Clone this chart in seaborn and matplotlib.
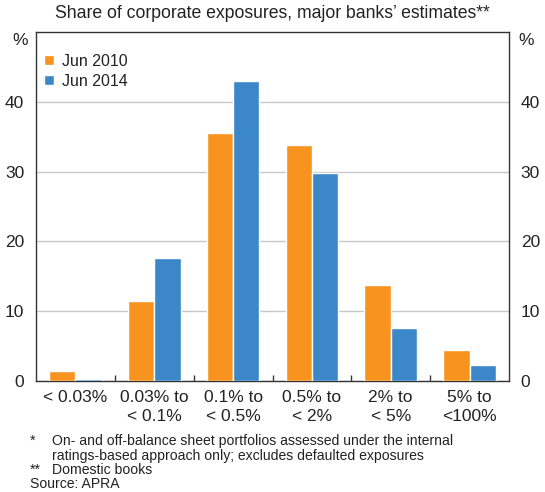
import matplotlib
matplotlib.use("Agg")
import matplotlib.pyplot as plt
import pandas as pd
import seaborn as sns

# PD bands and share of corporate exposures (%)
bands = ["< 0.03%", "0.03% to\n< 0.1%", "0.1% to\n< 0.5%", "0.5% to\n< 2%", "2% to\n< 5%", "5% to\n<100%"]
jun_2010 = [1.4, 11.5, 35.6, 33.8, 13.7, 4.4]
jun_2014 = [0.3, 17.6, 43.0, 29.8, 7.6, 2.3]
periods = ["Jun 2010", "Jun 2014"]
colours = ["#F7931E", "#3B87C8"]
y_ticks = [0, 10, 20, 30, 40]

df = pd.DataFrame({
    "band": bands * 2,
    "share": jun_2010 + jun_2014,
    "period": [periods[0]] * len(bands) + [periods[1]] * len(bands),
})

sns.set_style("white")
plt.rcParams["font.family"] = ["Liberation Sans", "DejaVu Sans"]
text_col = "#222222"

fig = plt.figure(figsize=(5.45, 4.92), dpi=100)
ax = fig.add_axes([36 / 545, 1 - 381 / 492, 473 / 545, 349 / 492])

sns.barplot(data=df, x="band", y="share", hue="period", palette=colours,
            width=0.67, gap=0, saturation=1, ax=ax, zorder=3)

ax.set_ylim(0, 50)
ax.set_xlim(-0.5, len(bands) - 0.5)
ax.set_yticks(y_ticks)
ax.yaxis.grid(True, color="#c8c8c8", linewidth=1, zorder=0)
ax.set_axisbelow(True)
ax.set_xlabel("")
ax.set_ylabel("")

# labels on both sides
ax.tick_params(axis="y", left=False, right=False, labelleft=True, labelright=True,
               labelsize=12.5, colors=text_col, pad=5)
ax.tick_params(axis="x", bottom=False, labelsize=12.5, colors=text_col, pad=3)
for lbl in ax.get_xticklabels():
    lbl.set_linespacing(1.35)

# small inward ticks at the category boundaries
ax.set_xticks([i + 0.5 for i in range(len(bands) - 1)], minor=True)
ax.tick_params(axis="x", which="minor", direction="in", length=4, width=1,
               color="#333333", bottom=True)

for sp in ax.spines.values():
    sp.set_color("#333333")
    sp.set_linewidth(1)

# % unit labels
ax.text(-0.017, 48.8, "%", transform=ax.get_yaxis_transform(), ha="right", va="center",
        fontsize=12.5, color=text_col)
ax.text(1.019, 48.8, "%", transform=ax.get_yaxis_transform(), ha="left", va="center",
        fontsize=12.5, color=text_col)

leg = ax.legend(loc="upper left", bbox_to_anchor=(8 / 473, 0.937), frameon=False,
                fontsize=11.5, handlelength=0.65, handleheight=0.6, handletextpad=0.45,
                labelspacing=0.3, borderaxespad=0, borderpad=0)
for t in leg.get_texts():
    t.set_color(text_col)

fig.text(0.5, 1 - 14 / 492, "Share of corporate exposures, major banks\u2019 estimates**",
         ha="center", va="center", fontsize=12.7, color=text_col)

notes_size = 10.1
fig.text(30 / 545, 1 - 441 / 492, "*", ha="left", va="center", fontsize=notes_size, color=text_col)
fig.text(52 / 545, 1 - 441 / 492, "On- and off-balance sheet portfolios assessed under the internal",
         ha="left", va="center", fontsize=notes_size, color=text_col)
fig.text(52 / 545, 1 - 456 / 492, "ratings-based approach only; excludes defaulted exposures",
         ha="left", va="center", fontsize=notes_size, color=text_col)
fig.text(30 / 545, 1 - 470 / 492, "**", ha="left", va="center", fontsize=notes_size, color=text_col)
fig.text(52 / 545, 1 - 470 / 492, "Domestic books", ha="left", va="center", fontsize=notes_size, color=text_col)
fig.text(30 / 545, 1 - 484 / 492, "Source: APRA", ha="left", va="center", fontsize=notes_size, color=text_col)

fig.savefig("out.png", dpi=100)
